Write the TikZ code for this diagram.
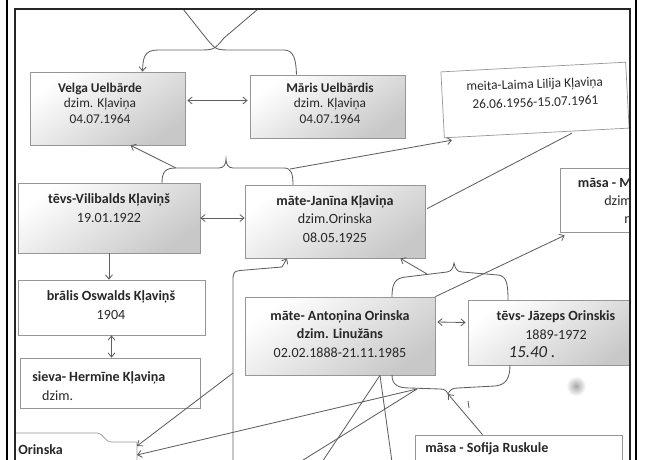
\documentclass[tikz,border=0pt]{standalone}
\usepackage{fontspec}
\setmainfont{Carlito}
\usetikzlibrary{arrows.meta, calc, positioning}
\definecolor{inkgray}{RGB}{95,95,95}
\definecolor{edgegray}{RGB}{150,150,150}
\definecolor{cardshade}{RGB}{200,200,200}
\definecolor{textgray}{RGB}{40,40,40}

\begin{document}
\begin{tikzpicture}[x=0.025cm, y=-0.025cm, >={Straight Barb[length=3pt,width=5pt]},
    card/.style={draw=edgegray, line width=0.5pt, fill=white, inner sep=0pt},
    shadedcard/.style={card, top color=white, bottom color=cardshade, shading angle=35},
    dims/.style 2 args={minimum width=#1*0.025cm, minimum height=#2*0.025cm},
    cardtext/.style={text=textgray, align=center, inner sep=0pt, font=\fontsize{10}{13}\selectfont},
    ink/.style={draw=inkgray, line width=0.6pt}]
    \useasboundingbox (0,0) rectangle (645,460);

    \begin{scope}
    \clip (15,9) rectangle (630,460);

    % Children
    \node[shadedcard, dims={155}{73}] (velga) at (107.5,108.5) {};
    \node[cardtext, font=\fontsize{9.5}{11}\selectfont] (velgatext) at (100,103) {\textbf{Velga Uelbārde}\\dzim. Kļaviņa\\04.07.1964};
    \node[shadedcard, dims={155}{63}] (maris) at (327.5,106.5) {};
    \node[cardtext, font=\fontsize{9.5}{11}\selectfont] (maristext) at (330,103) {\textbf{Māris Uelbārdis}\\dzim. Kļaviņa\\04.07.1964};
    \node[card, dims={185}{66}, rotate=3] (laima) at (535,100) {};
    \node[cardtext, font=\fontsize{9.5}{13}\selectfont, rotate=2] (laimatext) at (535,93) {meita-Laima Lilija Kļaviņa\\26.06.1956-15.07.1961};

    % Parents
    \node[shadedcard, dims={182}{70}] (vili) at (109,218) {};
    \node[cardtext] (vilitext) at (109,208) {\textbf{tēvs-Vilibalds Kļaviņš}\\19.01.1922};
    \node[shadedcard, dims={180}{73}] (janina) at (335,221.5) {};
    \node[cardtext] (janinatext) at (335,219) {\textbf{māte-Janīna Kļaviņa}\\dzim.Orinska\\08.05.1925};
    \node[card, dims={100}{64}] (masam) at (610,200) {};
    \node[cardtext, align=right, anchor=east] (masamtext) at (632,201) {\textbf{māsa - M}\\dzim\\n};

    % Uncle
    \node[card, dims={187}{55}] (bralis) at (111.5,307.5) {};
    \node[cardtext] (bralistext) at (111,305) {\textbf{brālis Oswalds Kļaviņš}\\1904};
    \node[card, dims={180}{50}] (sieva) at (110,383) {};
    \node[cardtext, align=left, anchor=west] (sievatext) at (32,386) {\textbf{sieva- Hermīne Kļaviņa}\\\hspace*{7pt}dzim.};

    % Grandparents
    \node[shadedcard, dims={190}{78}] (antonina) at (340,336) {};
    \node[cardtext] (antoninatext) at (340,334) {\textbf{māte- Antoņina Orinska}\\\textbf{dzim. Linužāns}\\02.02.1888-21.11.1985};
    \node[shadedcard, dims={172}{65}] (jazeps) at (554,332.5) {};
    \node[cardtext] (jazepstext) at (556,325) {\textbf{tēvs- Jāzeps Orinskis}\\1889-1972};
    \node[cardtext, font=\itshape\fontsize{12}{12}\selectfont] (jazepsnote) at (532,352) {15.40 .};
    \node[card, dims={207}{28}] (sofija) at (518.5,449) {};
    \node[cardtext, anchor=west] (sofijatext) at (425,449) {\textbf{māsa - Sofija Ruskule}};
    \draw[draw=edgegray, line width=0.5pt] (15,433) -- (97,433) .. controls (104,433) and (104,442) .. (112,442) -- (137,442) -- (137,462);
    \node[cardtext, anchor=west] (orinska) at (18,450) {\textbf{Orinska}};

    % smudge
    \shade[inner color=gray!70, outer color=white] (576,386) circle (10);

    % Free ends
    \coordinate (topl) at (183,9);
    \coordinate (topr) at (258,9);
    \coordinate (b1l) at (162,183);
    \coordinate (b1r) at (293,185);
    \coordinate (b1a) at (176,168);
    \coordinate (b1b) at (290,169);
    \coordinate (b2l) at (392,297);
    \coordinate (b2r) at (508,300);
    \coordinate (b2a) at (427,274);
    \coordinate (b3l) at (392,375);
    \coordinate (b3r) at (510,365);
    \coordinate (b3t) at (448,394);
    \coordinate (b3m) at (417,389);
    \coordinate (vbot) at (233,462);
    \coordinate (vmid) at (233,373);
    \coordinate (orina) at (137,446);
    \coordinate (orinb) at (137,455);

    % Top crossing
    \draw[ink, ->] (topr) -- (224,38) .. controls (214,50) .. (198,50) -- (158,50) .. controls (144,50) and (143,58) .. ($(velga.north)+(35,0)$);
    \draw[ink] (topl) -- (206,38) .. controls (216,50) .. (232,50) -- (284,50) .. controls (294,50) and (296,60) .. ($(maris.north)+(-31,0)$);
    \draw[ink, <->] ($(velga.east)+(2,-8)$) -- ($(maris.west)+(-2,-6)$);

    % Brace over the children
    \draw[ink] (b1l) .. controls (162,171) and (166,168) .. (b1a) -- (219,168) .. controls (224,168) and (226,164) .. (226,159) .. controls (226,164) and (228,168) .. (233,168) -- (284,168) .. controls (291,168) and (293,173) .. (b1r);
    \draw[ink, ->] (b1a) -- ($(velga.south)+(23,0)$);
    \draw[ink, ->] (b1b) -- ($(laima.south west)+(8,2)$);
    \draw[ink] ($(janina.east)+(2,-13)$) -- ($(laima.south)+(35,0)$);

    \draw[ink, <->] (vili.east) -- (vili.east -| janina.west);
    \draw[ink, ->] (vili.south) -- (vili.south |- bralis.north);
    \draw[ink, <->] (bralis.south) -- (bralis.south |- sieva.north);

    % Long line up to mother
    \draw[ink, ->] (vbot) -- (233,282) .. controls (233,271) .. (246,270) -- (282,267) -- ($(janina.south)+(-48,0)$);

    % Brace over the grandparents
    \draw[ink] (b2l) .. controls (392,282) and (396,278) .. (406,277) -- (447,272) .. controls (452,271) and (453,268) .. (454,263) .. controls (455,268) and (457,272) .. (462,272) -- (498,275) .. controls (506,276) and (508,282) .. (b2r);
    \draw[ink, ->] (b2a) -- ($(janina.south east)+(-25,0)$);
    \draw[ink, ->] (antonina.north east) -- ($(masam.south west)+(5,3)$);
    \draw[ink, <->] ($(antonina.east)+(2,-14)$) -- ($(jazeps.west)+(-2,-10)$);

    % Brace under the grandparents
    \draw[ink] (b3l) .. controls (392,385) and (398,388) .. (410,388) -- (440,389) .. controls (444,389) and (446,390) .. (b3t) .. controls (450,390) and (452,388) .. (458,388) -- (495,386) .. controls (506,385) and (510,378) .. (b3r);
    \draw[ink, ->] ($(sofija.north)+(-36,0)$) -- (b3t);
    \draw[ink] (468,401) -- (469,408);

    % Lines down to the bottom
    \draw[ink] ($(antonina.south)+(40,0)$) -- (322,462);
    \draw[ink] ($(antonina.south)+(40,0)$) -- (392,462);
    \draw[ink] (b3m) -- (300,462);
    \draw[ink, ->] (b3m) -- (orinb);
    \draw[ink, ->] (vmid) -- (orina);
    \end{scope}

    % Photo frame
    \draw[black!85, line width=0.9pt] (15,461) -- (15,9) -- (630,9) -- (630,461);
    \draw[black, line width=1.6pt] (7,0) -- (7,460) (636,0) -- (636,460);
\end{tikzpicture}
\end{document}
